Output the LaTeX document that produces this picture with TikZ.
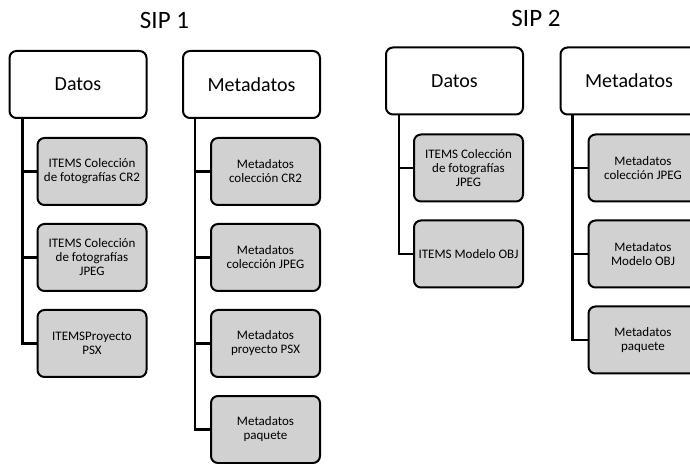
\documentclass[tikz,border=0pt]{standalone}
\usepackage{fontspec}
\setmainfont{Carlito}
\usetikzlibrary{positioning}

\begin{document}
\begin{tikzpicture}[
                            x=1pt, y=1pt,
                            node distance=17pt,
                            head/.style={draw, line width=2pt, rounded corners=7pt, fill=white,
                                         minimum width=137pt, minimum height=67pt,
                                         font=\fontsize{20}{24}\selectfont},
                            item/.style={draw, line width=2pt, rounded corners=7pt, fill=black!18,
                                         minimum width=109pt, minimum height=67pt, inner sep=2pt,
                                         align=center, font=\fontsize{13}{14}\selectfont},
                            title/.style={anchor=base, font=\fontsize{25}{30}\selectfont},
                            link/.style={line width=2.2pt}
                            ]
                            \useasboundingbox (0,0) rectangle (690,463);
                            \clip (0,0) rectangle (690,463);

                            \node[title]                    (s1)    at (164.5,434)  {SIP 1};
                            \node[title]                    (s2)    at (536,436)    {SIP 2};

                            \node[head]                     (d1)    at (78,378.5)   {Datos};
                            \node[head]                     (m1)    at (251.5,378.5) {Metadatos};
                            \node[head]                     (d2)    at (454.5,382)  {Datos};
                            \node[head]                     (m2)    at (629,382)    {Metadatos};

                            \node[item, below left=18pt and 0pt of d1.south east] (d11) {ITEMS Colección\\de fotografías CR2};
                            \node[item, below=of d11]       (d12)   {ITEMS Colección\\de fotografías\\JPEG};
                            \node[item, below=of d12]       (d13)   {ITEMSProyecto\\PSX};

                            \node[item, below left=18pt and 0pt of m1.south east] (m11) {Metadatos\\colección CR2};
                            \node[item, below=of m11]       (m12)   {Metadatos\\colección JPEG};
                            \node[item, below=of m12]       (m13)   {Metadatos\\proyecto PSX};
                            \node[item, below=of m13]       (m14)   {Metadatos\\paquete};

                            \node[item, below left=18pt and 0pt of d2.south east] (d21) {ITEMS Colección\\de fotografías\\JPEG};
                            \node[item, below=of d21]       (d22)   {ITEMS Modelo OBJ};

                            \node[item, below left=18pt and 0pt of m2.south east] (m21) {Metadatos\\colección JPEG};
                            \node[item, below=of m21]       (m22)   {Metadatos\\Modelo OBJ};
                            \node[item, below=of m22]       (m23)   {Metadatos\\paquete};

                            \draw[link] ([xshift=14pt]d1.south west) |- (d11.west);
                            \draw[link] ([xshift=14pt]d1.south west) |- (d12.west);
                            \draw[link] ([xshift=14pt]d1.south west) |- (d13.west);

                            \draw[link] ([xshift=13pt]m1.south west) |- (m11.west);
                            \draw[link] ([xshift=13pt]m1.south west) |- (m12.west);
                            \draw[link] ([xshift=13pt]m1.south west) |- (m13.west);
                            \draw[link] ([xshift=13pt]m1.south west) |- (m14.west);

                            \draw[link] ([xshift=14pt]d2.south west) |- (d21.west);
                            \draw[link] ([xshift=14pt]d2.south west) |- (d22.west);

                            \draw[link] ([xshift=13pt]m2.south west) |- (m21.west);
                            \draw[link] ([xshift=13pt]m2.south west) |- (m22.west);
                            \draw[link] ([xshift=13pt]m2.south west) |- (m23.west);
                        \end{tikzpicture}
\end{document}
